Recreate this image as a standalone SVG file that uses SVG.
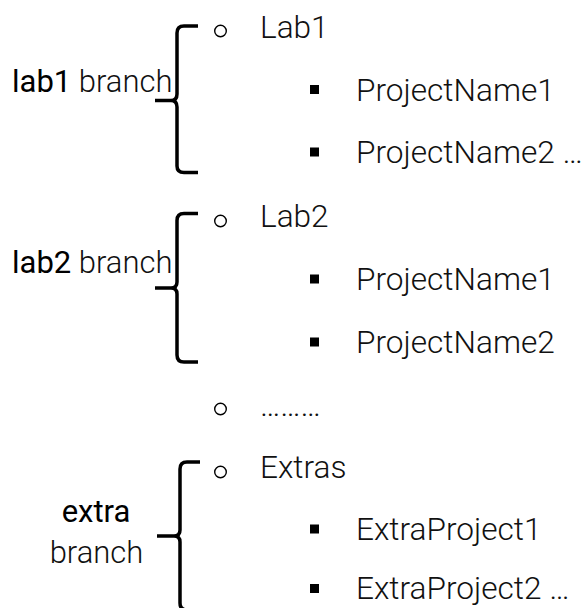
<svg xmlns="http://www.w3.org/2000/svg" width="587" height="608" viewBox="0 0 587 608">
<style>
.t{font-family:Roboto,"Liberation Sans",sans-serif;font-weight:300;font-size:31.6px;fill:#111}
.b{font-family:Roboto,"Liberation Sans",sans-serif;font-weight:400;font-size:31px;fill:#000}
.l{font-family:Roboto,"Liberation Sans",sans-serif;font-weight:300;font-size:31px;fill:#111}
.circ{fill:none;stroke:#000;stroke-width:1.4}
.sq{fill:#000}
.br{fill:none;stroke:#000;stroke-width:3.5;stroke-linejoin:round}
</style>
<rect width="587" height="608" fill="#fff"/>
<g id="connectors">
<path class="br" d="M198,26 H184 Q177,26 177,33 V94 Q177,100.5 171,100.5 H155 M171,100.5 Q177,100.5 177,107 V166 Q177,172.5 184,172.5 H198"/>
<path class="br" d="M198,213.5 H184 Q177,213.5 177,220.5 V282 Q177,288 171,288 H155 M171,288 Q177,288 177,294 V355 Q177,362 184,362 H198"/>
<path class="br" d="M200,462 H187 Q180,462 180,469 V530 Q180,536 174,536 H157 M174,536 Q180,536 180,542 V603 Q180,610 187,610 H200"/>
</g>
<g id="label-lab1"><text x="12" y="92"><tspan class="b">lab1</tspan><tspan class="l"> branch</tspan></text></g>
<g id="label-lab2"><text x="12" y="273"><tspan class="b">lab2</tspan><tspan class="l"> branch</tspan></text></g>
<g id="label-extra">
<text class="b" x="96" y="522" text-anchor="middle">extra</text>
<text class="l" x="96.5" y="563" text-anchor="middle">branch</text>
</g>
<g id="lab1">
<circle class="circ" cx="220.5" cy="31" r="5.8"/><text class="t" x="260" y="38">Lab1</text>
</g>
<g id="lab1-p1"><rect class="sq" x="310" y="85" width="9" height="9"/><text class="t" x="356" y="100.5">ProjectName1</text></g>
<g id="lab1-p2"><rect class="sq" x="310" y="147.5" width="9" height="9"/><text class="t" x="356" y="163">ProjectName2 …</text></g>
<g id="lab2">
<circle class="circ" cx="220.5" cy="221" r="5.8"/><text class="t" x="260" y="227">Lab2</text>
</g>
<g id="lab2-p1"><rect class="sq" x="310" y="274.5" width="9" height="9"/><text class="t" x="356" y="290">ProjectName1</text></g>
<g id="lab2-p2"><rect class="sq" x="310" y="337.5" width="9" height="9"/><text class="t" x="356" y="353">ProjectName2</text></g>
<g id="more">
<circle class="circ" cx="220.5" cy="409" r="5.8"/><text class="t" x="260" y="416">………</text>
</g>
<g id="extras">
<circle class="circ" cx="220.5" cy="472" r="5.8"/><text class="t" x="260" y="478">Extras</text>
</g>
<g id="extra-p1"><rect class="sq" x="310" y="524.5" width="9" height="9"/><text class="t" x="356" y="540">ExtraProject1</text></g>
<g id="extra-p2"><rect class="sq" x="310" y="584" width="9" height="9"/><text class="t" x="356" y="599">ExtraProject2 …</text></g>
</svg>
